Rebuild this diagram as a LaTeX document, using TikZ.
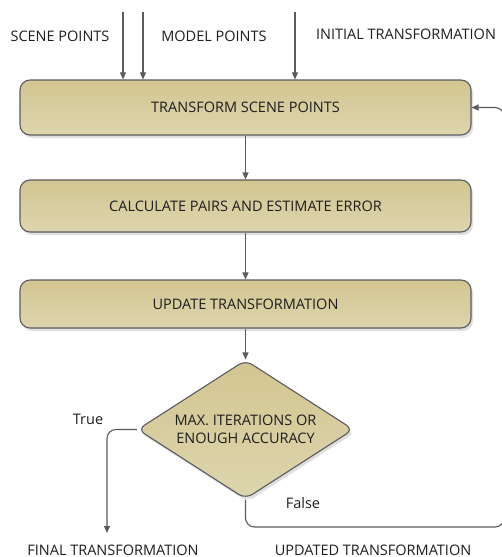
\documentclass[tikz,border=0pt]{standalone}
\usepackage{fontspec}
\setmainfont{Open Sans}
\usetikzlibrary{arrows.meta,shapes.geometric,shadows}
\definecolor{linegray}{HTML}{5A5A60}
\definecolor{tantop}{HTML}{D2C590}
\definecolor{tanbot}{HTML}{DDD5AE}
\definecolor{txt}{HTML}{1E1E1E}
\tikzset{
  flow/.style={draw=linegray, line width=1.1pt, -{Triangle[length=7pt,width=6pt]}},
  stepbox/.style={draw=linegray, line width=1.1pt, rounded corners=10pt,
    top color=tantop, bottom color=tanbot, minimum width=451pt,
    inner sep=0pt, text=txt,
    drop shadow={shadow xshift=2pt, shadow yshift=-3pt, opacity=0.25, fill=gray}},
  decide/.style={diamond, draw=linegray, line width=1.1pt, rounded corners=8pt,
    top color=tantop, bottom color=tanbot, minimum width=216pt, minimum height=139pt,
    aspect=1.55, inner sep=0pt, text=txt, align=center,
    drop shadow={shadow xshift=2pt, shadow yshift=-3pt, opacity=0.25, fill=gray}},
  lbl/.style={text=txt, inner sep=0pt, anchor=base}
}
\begin{document}
\begin{tikzpicture}[x=1pt, y=-1pt, font=\fontsize{14.5}{18}\selectfont]
\useasboundingbox (0,0) rectangle (502,557);
\clip (0,0) rectangle (502,557);

% process steps
\node[stepbox, minimum height=55pt] (b1) at (245.5,107.5) {TRANSFORM SCENE POINTS};
\node[stepbox, minimum height=52pt] (b2) at (245.5,206) {CALCULATE PAIRS AND ESTIMATE ERROR};
\node[stepbox, minimum height=48pt] (b3) at (245.5,304) {UPDATE TRANSFORMATION};
\node[decide] (dia) at (245.5,429.5) {MAX. ITERATIONS OR\\ENOUGH ACCURACY};

% inputs
\node[lbl] (lscene) at (60,41) {SCENE POINTS};
\node[lbl] (lmodel) at (214,41) {MODEL POINTS};
\node[lbl] (linit) at (406,39.5) {INITIAL TRANSFORMATION};
\coordinate (in1) at (123,12);
\coordinate (in2) at (143,12);
\coordinate (in3) at (295,12);
\draw[flow] (in1) -- (in1 |- b1.north);
\draw[flow] (in2) -- (in2 |- b1.north);
\draw[flow] (in3) -- (in3 |- b1.north);

% main chain
\draw[flow] (b1.south) -- (b2.north);
\draw[flow] (b2.south) -- (b3.north);
\draw[flow] (b3.south) -- (dia.north);

% branches
\coordinate (fin) at (107,533);
\coordinate (loop) at (504,527);
\draw[flow, rounded corners=9pt] (dia.west) -| (fin);
\draw[flow, rounded corners=9pt] (dia.south) |- (loop) |- (b1.east);
\node[lbl] (ltrue) at (88,424) {True};
\node[lbl] (lfalse) at (303,508) {False};

% outputs
\node[lbl] (lfinal) at (113,555) {FINAL TRANSFORMATION};
\node[lbl] (lupd) at (373,555) {UPDATED TRANSFORMATION};
\end{tikzpicture}
\end{document}
